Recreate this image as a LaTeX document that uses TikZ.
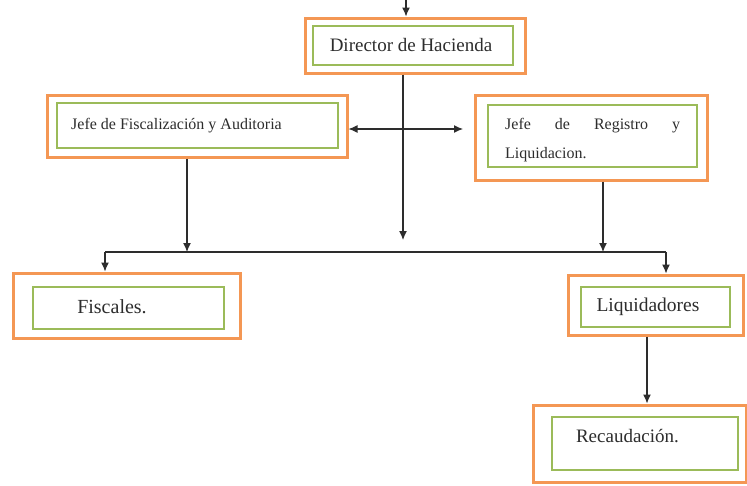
\documentclass[tikz,border=0pt]{standalone}
\usepackage{fontspec}
\setmainfont{Liberation Serif}
\usetikzlibrary{arrows.meta}
\definecolor{boxorange}{RGB}{244,151,84}
\definecolor{boxgreen}{RGB}{155,187,89}
\definecolor{linegray}{RGB}{45,45,45}
\begin{document}
\begin{tikzpicture}[
  outerbox/.style={draw=boxorange, line width=3pt, fill=white, inner sep=0pt},
  innerbox/.style={draw=boxgreen, line width=2.6pt, inner sep=0pt},
  label/.style={text=linegray, inner sep=0pt},
  conn/.style={draw=linegray, line width=1.2pt},
  tip/.style={-{Latex[length=9pt,width=8pt]}}
]
\useasboundingbox (0pt,0pt) rectangle (747pt,-485pt);
% boxes
\node[outerbox, minimum width=220pt, minimum height=55pt] (dirout) at (415pt,-45.5pt) {};
\node[innerbox, minimum width=200pt, minimum height=39pt] (dirin) at (413pt,-45.5pt) {};
\node[label, font=\fontsize{19}{22}\selectfont] (dirtext) at (411pt,-45pt) {Director de Hacienda};

\node[outerbox, minimum width=300pt, minimum height=62pt] (fiscout) at (197pt,-126pt) {};
\node[innerbox, minimum width=281pt, minimum height=45pt] (fiscin) at (197.5pt,-125.5pt) {};
\node[label, anchor=west, font=\fontsize{16}{19}\selectfont] (fisctext) at (71pt,-125.5pt) {Jefe de Fiscalización y Auditoria};

\node[outerbox, minimum width=232pt, minimum height=85pt] (regout) at (591pt,-137.5pt) {};
\node[innerbox, minimum width=209pt, minimum height=62pt] (regin) at (592.5pt,-136pt) {};
\node[label, anchor=north west, font=\fontsize{16}{29}\selectfont] (regtext) at (505pt,-118pt)
  {\parbox{175pt}{\makebox[175pt][s]{Jefe de Registro y}\\Liquidacion.}};

\node[outerbox, minimum width=227pt, minimum height=65pt] (fiscalesout) at (126.5pt,-305.5pt) {};
\node[innerbox, minimum width=191pt, minimum height=42pt] (fiscalesin) at (128.5pt,-308pt) {};
\node[label, font=\fontsize{20}{23}\selectfont] (fiscalestext) at (112pt,-307pt) {Fiscales.};

\node[outerbox, minimum width=175pt, minimum height=60pt] (liqout) at (655.5pt,-305pt) {};
\node[innerbox, minimum width=149pt, minimum height=40pt] (liqin) at (655.5pt,-307pt) {};
\node[label, font=\fontsize{19.5}{22}\selectfont] (liqtext) at (648pt,-307pt) {Liquidadores};

\node[outerbox, minimum width=213pt, minimum height=77pt] (recout) at (639.5pt,-443.5pt) {};
\node[innerbox, minimum width=186pt, minimum height=53pt] (recin) at (645pt,-443.5pt) {};
\node[label, font=\fontsize{19}{22}\selectfont] (rectext) at (627.5pt,-436pt) {Recaudación.};

% connectors
\coordinate (top) at (406pt,0pt);
\coordinate (hub) at (403pt,-240pt);
\coordinate (cross) at (403pt,-129pt);
\coordinate (regtip) at (463pt,-129pt);
\coordinate (busL) at (105pt,-252pt);
\coordinate (busR) at (666pt,-252pt);

\draw[conn, tip] (top) -- (top |- dirout.north);
\draw[conn, tip] (dirout.south -| hub) -- (hub);
\draw[conn, {Latex[length=9pt,width=8pt]}-{Latex[length=9pt,width=8pt]}] (fiscout.east |- cross) -- (regtip);
\draw[conn, tip] ([xshift=-10pt]fiscout.south) -- ([xshift=-10pt]fiscout.south |- busL);
\draw[conn, tip] ([xshift=12pt]regout.south) -- ([xshift=12pt]regout.south |- busL);
\draw[conn] (busL) -- (busR);
\draw[conn, tip] (busL) -- (busL |- fiscalesout.north);
\draw[conn, tip] (busR) -- (busR |- liqout.north);
\draw[conn, tip] ([xshift=-8.5pt]liqout.south) -- ([xshift=-8.5pt]liqout.south |- recout.north);
\end{tikzpicture}
\end{document}
